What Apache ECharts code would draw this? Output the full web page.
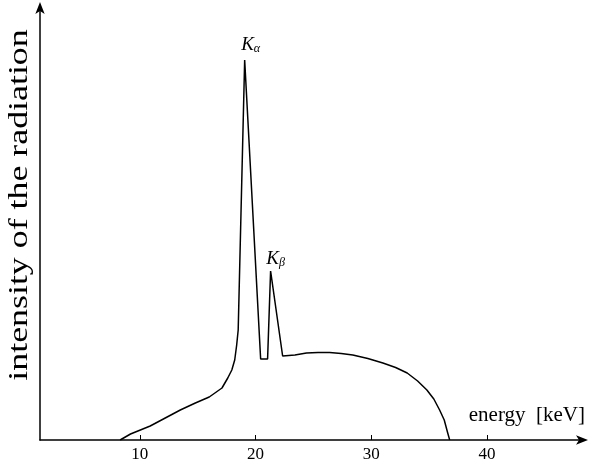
<!DOCTYPE html>
<html>
<head>
<meta charset="utf-8">
<script src="https://cdn.jsdelivr.net/npm/echarts@6/dist/echarts.min.js"></script>
<style>
  html, body { margin: 0; padding: 0; background: #fff; }
  #chart { width: 592px; height: 465px; }
</style>
</head>
<body>
<div id="chart"></div>
<script>
// energy in keV, intensity in arbitrary units
var energy = [8.3, 9.2, 10.9, 12.2, 13.5, 14.8, 16.0, 17.1, 17.6, 17.95, 18.2, 18.37, 18.5, 19.06,
  20.44, 21.04, 21.3, 22.34, 23.4, 24.4, 25.4, 26.4, 27.4, 28.4, 29.7, 31.0, 32.1, 33.1, 34.0, 34.8, 35.4, 35.9, 36.3, 36.6, 36.77];
var intensity = [0, 6, 14, 22, 30, 37, 43, 52, 62, 70, 80, 95, 110, 380,
  81, 81, 169, 84, 85, 87, 87.6, 87.5, 86.5, 85, 81.5, 77, 72.5, 67, 59, 50, 41, 30, 20, 7, 0];
var xTicks = [10, 20, 30, 40];
var peakLabels = { 13: 'α', 16: 'β' };

var serif = 'Liberation Serif, Times New Roman, serif';

var data = energy.map(function (e, i) {
  var d = { value: [e, intensity[i]] };
  if (peakLabels[i]) {
    d.label = {
      show: true,
      position: 'top',
      distance: i === 13 ? 5 : 2,
      offset: i === 13 ? [6, 0] : [5, 0],
      formatter: '{k|K}{s|' + peakLabels[i] + '}',
      rich: {
        k: { fontFamily: serif, fontStyle: 'italic', fontSize: 19, color: '#000' },
        s: { fontFamily: serif, fontStyle: 'italic', fontSize: 12, color: '#000', verticalAlign: 'bottom', padding: [9, 0, 0, 0] }
      }
    };
  }
  return d;
});

var chart = echarts.init(document.getElementById('chart'));
chart.setOption({
  animation: false,
  grid: { left: 40, right: 10, top: 8, bottom: 25 },
  xAxis: {
    type: 'value',
    min: 1.38,
    max: 48.2,
    name: 'energy  [keV]',
    nameLocation: 'end',
    nameGap: 0,
    nameTextStyle: { fontFamily: serif, fontSize: 21, color: '#000', align: 'right', verticalAlign: 'bottom', padding: [0, -3, 14, 0] },
    axisLine: { lineStyle: { color: '#000', width: 1.5 }, symbol: ['none', 'arrow'], symbolSize: [7, 12], symbolOffset: [0, 6] },
    axisTick: { inside: true, length: 5, customValues: xTicks, lineStyle: { color: '#000' } },
    axisLabel: { customValues: xTicks, fontFamily: serif, fontSize: 17, color: '#000', margin: 6 },
    splitLine: { show: false }
  },
  yAxis: {
    type: 'value',
    min: 0,
    max: 432,
    axisLine: { show: true, lineStyle: { color: '#000', width: 1.5 }, symbol: ['none', 'arrow'], symbolSize: [7, 12], symbolOffset: [0, 6] },
    axisTick: { show: false },
    axisLabel: { show: false },
    splitLine: { show: false }
  },
  graphic: [{
    type: 'text',
    x: 20,
    y: 205,
    rotation: Math.PI / 2,
    scaleX: 1.28,
    style: { text: 'intensity of the radiation', fontFamily: serif, fontSize: 28, fill: '#000', align: 'center', verticalAlign: 'middle' }
  }],
  series: [{
    type: 'line',
    data: data,
    symbol: 'circle',
    symbolSize: 0,
    showSymbol: true,
    itemStyle: { color: 'rgba(0,0,0,0)' },
    smooth: false,
    lineStyle: { color: '#000', width: 1.5 }
  }]
});
</script>
</body>
</html>
